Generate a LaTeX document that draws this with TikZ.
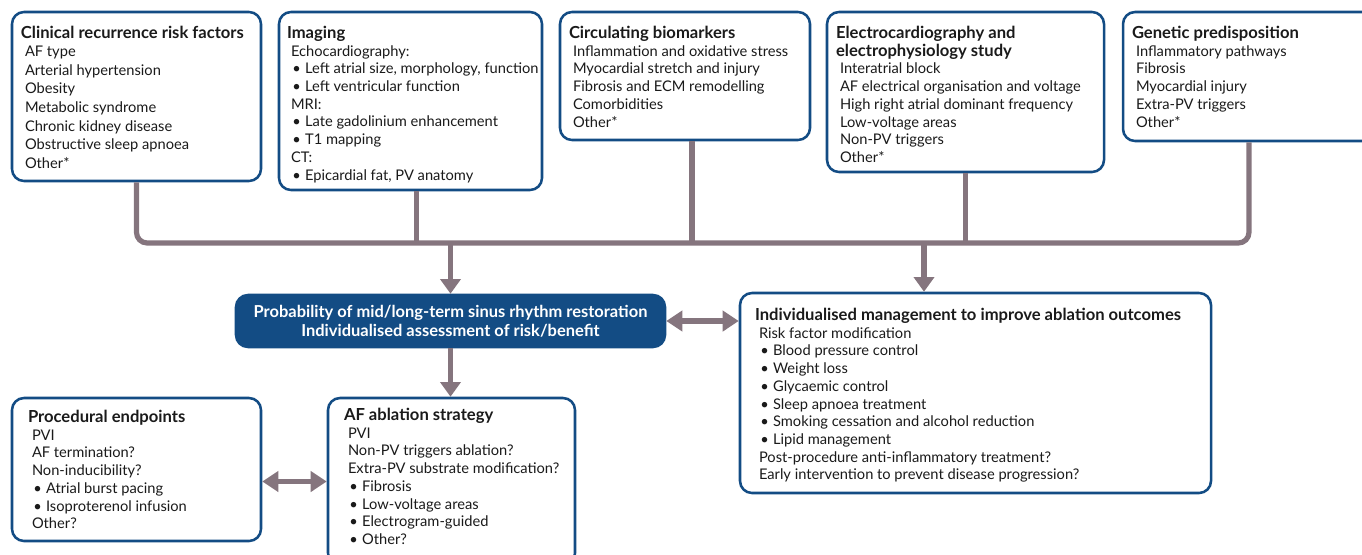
\documentclass[tikz,border=0pt]{standalone}
\usepackage{fontspec}
\setmainfont{Lato}
\usetikzlibrary{arrows.meta,fit}
\definecolor{boxblue}{HTML}{134C84}
\definecolor{linkgrey}{HTML}{85757E}
\definecolor{ink}{HTML}{1A1A1A}
\tikzset{
 panel/.style={draw=boxblue,line width=1.9pt,rounded corners=9pt,inner sep=0pt},
 keypanel/.style={panel,fill=boxblue},
 txt/.style={anchor=north west,inner sep=0pt,align=left,text=ink,font=\fontsize{11}{13.3}\selectfont},
 link/.style={draw=linkgrey,line width=3.9pt},
 tip/.style={link,-{Triangle[length=11pt,width=15pt]}},
 twotip/.style={link,{Triangle[length=12pt,width=15pt]}-{Triangle[length=12pt,width=15pt]}},
}
% title line, plain indent and bullet indent inside the panels
\newcommand{\hd}[1]{{\bfseries\fontsize{12.45}{13.3}\selectfont #1}}
\newcommand{\ind}{\hspace*{3pt}}
\newcommand{\bul}{\hspace*{4pt}\textbullet\hspace{3.2pt}}

\begin{document}
\begin{tikzpicture}[x=0.75pt,y=-0.75pt]
 \path[use as bounding box,clip] (0,0) rectangle (1362,554);
 % top row
 \node[panel,fit={(12,12) (261,181)}] (risk) {};
 \node[panel,fit={(279,12) (542,190)}] (imaging) {};
 \node[panel,fit={(560,12) (810,140)}] (biomark) {};
 \node[panel,fit={(827,12) (1104,172)}] (ecg) {};
 \node[panel,fit={(1123,12) (1375,141)}] (genetic) {};
 % middle and bottom rows
 \node[keypanel,fit={(236,295) (665,347)}] (prob) {};
 \node[panel,fit={(740,293) (1211,493)}] (manage) {};
 \node[panel,fit={(12,398) (261,541)}] (endpoints) {};
 \node[panel,fit={(328,398) (575,565)}] (ablation) {};

 \node[text=white,align=center,inner sep=0pt,font=\bfseries\fontsize{12.35}{14.3}\selectfont] (probT)
   at (prob.center) {Probability of mid/long-term sinus rhythm restoration\\Individualised assessment of risk/benefit};
 \node[txt,font=\fontsize{11}{13.9}\selectfont] (riskT) at ([shift={(10,15)}]risk.north west)
   {\hd{Clinical recurrence risk factors}\\\ind AF type\\\ind Arterial hypertension\\\ind Obesity\\
    \ind Metabolic syndrome\\\ind Chronic kidney disease\\\ind Obstructive sleep apnoea\\\ind Other*};
 \node[txt] (imagingT) at ([shift={(9,15)}]imaging.north west)
   {\hd{Imaging}\\\ind Echocardiography:\\\bul Left atrial size, morphology, function\\
    \bul Left ventricular function\\\ind MRI:\\\bul Late gadolinium enhancement\\\bul T1 mapping\\
    \ind CT:\\\bul Epicardial fat, PV anatomy};
 \node[txt] (biomarkT) at ([shift={(10,15)}]biomark.north west)
   {\hd{Circulating biomarkers}\\\ind Inflammation and oxidative stress\\\ind Myocardial stretch and injury\\
    \ind Fibrosis and ECM remodelling\\\ind Comorbidities\\\ind Other*};
 \node[txt] (ecgT) at ([shift={(10,15)}]ecg.north west)
   {\hd{Electrocardiography and}\\\hd{electrophysiology study}\\\ind Interatrial block\\
    \ind AF electrical organisation and voltage\\\ind High right atrial dominant frequency\\
    \ind Low-voltage areas\\\ind Non-PV triggers\\\ind Other*};
 \node[txt] (geneticT) at ([shift={(10,15)}]genetic.north west)
   {\hd{Genetic predisposition}\\\ind Inflammatory pathways\\\ind Fibrosis\\\ind Myocardial injury\\
    \ind Extra-PV triggers\\\ind Other*};
 \node[txt] (manageT) at ([shift={(16,16)}]manage.north west)
   {\hd{Individualised management to improve ablation outcomes}\\\ind Risk factor modification\\
    \bul Blood pressure control\\\bul Weight loss\\\bul Glycaemic control\\\bul Sleep apnoea treatment\\
    \bul Smoking cessation and alcohol reduction\\\bul Lipid management\\
    \ind Post-procedure anti-inflammatory treatment?\\\ind Early intervention to prevent disease progression?};
 \node[txt] (endpointsT) at ([shift={(17,13)}]endpoints.north west)
   {\hd{Procedural endpoints}\\\ind PVI\\\ind AF termination?\\\ind Non-inducibility?\\
    \bul Atrial burst pacing\\\bul Isoproterenol infusion\\\ind Other?};
 \node[txt] (ablationT) at ([shift={(17,11)}]ablation.north west)
   {\hd{AF ablation strategy}\\\ind PVI\\\ind Non-PV triggers ablation?\\\ind Extra-PV substrate modification?\\
    \bul Fibrosis\\\bul Low-voltage areas\\\bul Electrogram-guided\\\bul Other?};

 % collecting bus below the top row
 \coordinate (bus) at (0,243);
 \coordinate (drop) at (924,243);
 \draw[link,rounded corners=8pt] (risk.south) |- (bus -| genetic.south) -- (genetic.south);
 \foreach \b/\dx in {imaging/6,biomark/7,ecg/0}
  \draw[link] ([shift={(\dx,0)}]\b.south) -- ([shift={(\dx,0)}]\b.south |- bus);
 \draw[tip] (prob.north |- bus) -- (prob.north);
 \draw[tip] (drop) -- (drop |- manage.north);
 \draw[tip] (prob.south) -- (prob.south |- ablation.north);
 \draw[twotip] (prob.east) -- (prob.east -| manage.west);
 \draw[twotip] ([shift={(0,12)}]endpoints.east) -- ([shift={(0,12)}]endpoints.east -| ablation.west);
\end{tikzpicture}
\end{document}
